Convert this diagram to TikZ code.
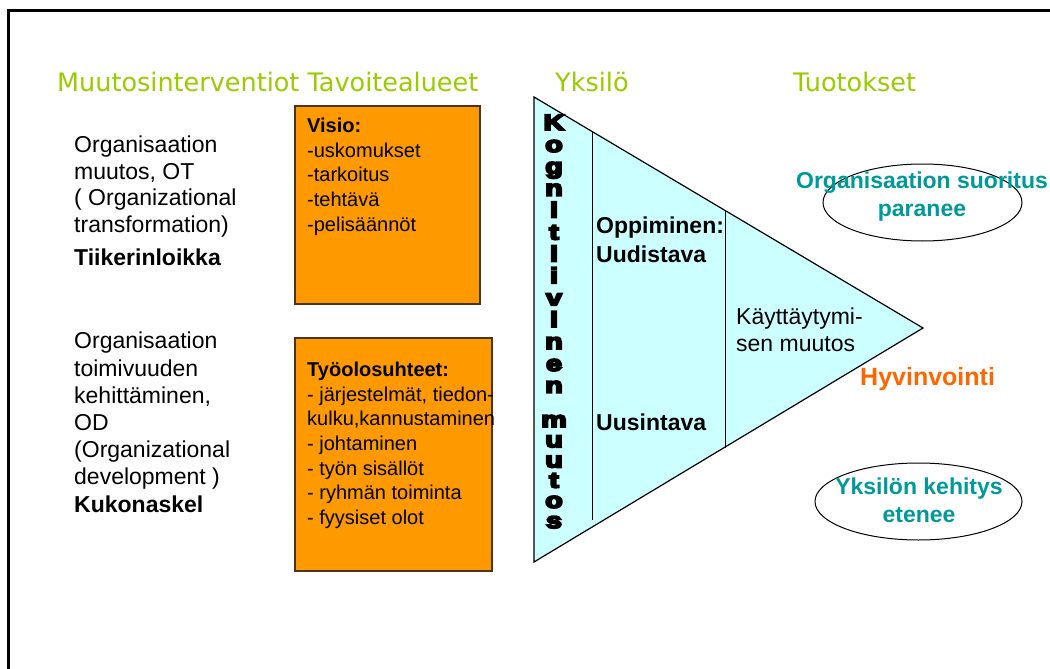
\documentclass[tikz,border=0pt]{standalone}
\usepackage{fontspec}
\setmainfont{Liberation Sans}
\newfontfamily\headfont{DejaVu Sans}
\newfontfamily\heavyfont[FakeBold=8]{Liberation Sans Bold}
\usetikzlibrary{shapes.geometric}
\definecolor{vihrea}{HTML}{99CC00}
\definecolor{turkoosi}{HTML}{009999}
\definecolor{oranssi}{HTML}{FF9900}
\definecolor{punaoranssi}{HTML}{FF6600}
\definecolor{syaani}{HTML}{CCFFFF}
\definecolor{reuna}{HTML}{4D3319}
\tikzset{otsikko/.style={text=vihrea,font=\headfont\fontsize{25.5}{28}\selectfont,anchor=base west,inner sep=0},
	teksti/.style={align=left,anchor=north west,inner sep=0,font=\fontsize{23}{26.4}\selectfont},
	laatikko/.style={draw=reuna,fill=oranssi,line width=1.2pt},
	listateksti/.style={align=left,anchor=north west,inner sep=0,font=\fontsize{20}{24.6}\selectfont},
	tulos/.style={align=center,anchor=north,inner sep=0,text=turkoosi,font=\bfseries\fontsize{23}{28}\selectfont},
	soikio/.style={shape=ellipse,draw,line width=1pt,inner sep=0},
	kirjain/.style={anchor=base,inner sep=0,font=\heavyfont\fontsize{22}{22}\selectfont}}

\begin{document}
\begin{tikzpicture}[x=1pt,y=-1pt]
	\useasboundingbox[fill=white] (0,0) rectangle (1050,669);
	\draw[line width=2.2pt] (8.5,669) |- (1050,10.5);
	%
	\node[otsikko] (muutos) at (57,92) {Muutosinterventiot Tavoitealueet};
	\node[otsikko] (yksilo) at (555,92) {Yksilö};
	\node[otsikko] (tuotos) at (793,92) {Tuotokset};
	%
	\node[teksti] (OT) at (74,136) {Organisaation\\muutos, OT\\( Organizational\\transformation)\\[7pt]\textbf{Tiikerinloikka}};
	\node[teksti,font=\fontsize{23}{27.2}\selectfont] (OD) at (74,332) {Organisaation\\toimivuuden\\kehittäminen,\\OD\\(Organizational\\development )\\\textbf{Kukonaskel}};
	%
	\draw[laatikko] (295,106) rectangle (480,304);
	\draw[laatikko] (295,338) rectangle (492,571);
	\node[listateksti] (visio) at (307,118) {\textbf{Visio:}\\-uskomukset\\-tarkoitus\\-tehtävä\\-pelisäännöt};
	\node[listateksti] (tyo) at (307,362) {\textbf{Työolosuhteet:}\\- järjestelmät, tiedon-\\kulku,kannustaminen\\- johtaminen\\- työn sisällöt\\- ryhmän toiminta\\- fyysiset olot};
	%
	\coordinate (A) at (534,97);
	\coordinate (B) at (923,328);
	\coordinate (C) at (534,562);
	\draw[fill=syaani,line width=1.2pt] (A) -- (B) -- (C) -- cycle;
	\draw[line width=1pt] (592,131) -- (592,520);
	\draw[line width=1pt] (725,211) -- (725,448);
	\foreach \ch [count=\i] in {K,o,g,n,i,t,i,i,v,i,n,e,n}
		\node[kirjain] at (554,130+21.9*\i-21.9) {\scalebox{1.3}[1]{\ch}};
	\foreach \ch [count=\i] in {m,u,u,t,o,s}
		\node[kirjain] at (554,427+20.2*\i-20.2) {\scalebox{1.3}[1]{\ch}};
	\node[teksti,font=\bfseries\fontsize{23}{29}\selectfont] (oppi) at (596,217) {Oppiminen:\\Uudistava};
	\node[teksti,font=\bfseries\fontsize{23}{29}\selectfont] (uusi) at (596,414) {Uusintava};
	\node[teksti,font=\fontsize{23}{27}\selectfont] (kaytos) at (736,308) {Käyttäytymi-\\sen muutos};
	%
	\node[soikio,minimum width=199,minimum height=77] (E1) at (922.5,202.5) {};
	\node[soikio,minimum width=207,minimum height=77] (E2) at (918.5,501.5) {};
	\node[tulos] (suoritus) at (922,172) {Organisaation suoritus\\paranee};
	\node[tulos] (kehitys) at (919,478) {Yksilön kehitys\\etenee};
	\node[anchor=base west,inner sep=0,text=punaoranssi,font=\bfseries\fontsize{25}{25}\selectfont] (hyvin) at (860,385) {Hyvinvointi};
\end{tikzpicture}
\end{document}
